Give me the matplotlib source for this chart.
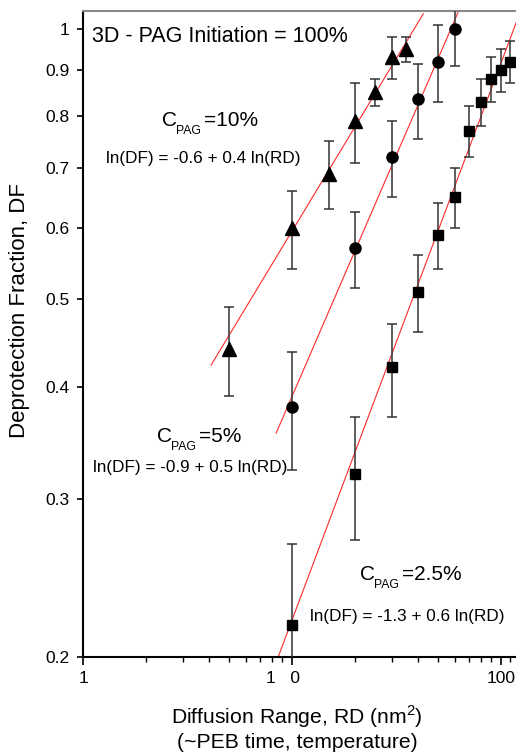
import numpy as np
import matplotlib
matplotlib.use('Agg')
import matplotlib.pyplot as plt
from matplotlib.ticker import FixedLocator, NullFormatter
import matplotlib.transforms as mtransforms

plt.rcParams['font.family'] = ['Liberation Sans', 'DejaVu Sans']
plt.rcParams['mathtext.fontset'] = 'custom'
plt.rcParams['mathtext.rm'] = 'Liberation Sans'

# C_PAG = 10 % (triangles)
tri_x = [5, 10, 15, 20, 25, 30, 35]
tri_y = [0.44, 0.60, 0.69, 0.79, 0.85, 0.93, 0.95]
tri_err = [0.05, 0.06, 0.06, 0.08, 0.03, 0.05, 0.03]

# C_PAG = 5 % (circles)
circ_x = [10, 20, 30, 40, 50, 60]
circ_y = [0.38, 0.57, 0.72, 0.835, 0.92, 1.0]
circ_err = [0.057, 0.055, 0.07, 0.08, 0.09, 0.09]

# C_PAG = 2.5 % (squares)
sq_x = [10, 20, 30, 40, 50, 60, 70, 80, 90, 100, 110]
sq_y = [0.217, 0.32, 0.42, 0.51, 0.59, 0.65, 0.77, 0.83, 0.88, 0.90, 0.92]
sq_err = [0.05] * 11

# fits: log10(DF) = a + b*log10(RD), drawn over [x0, x1]
fit_tri = (-0.61, 0.385, 4.1, 42.5)
fit_circ = (-0.947, 0.538, 8.4, 70)
fit_sq = (-1.278, 0.62, 8.6, 125)

y_ticks = [0.2, 0.3, 0.4, 0.5, 0.6, 0.7, 0.8, 0.9, 1.0]
y_labels = ['0.2', '0.3', '0.4', '0.5', '0.6', '0.7', '0.8', '0.9', '1']
x_ticks = [1, 10, 100]
x_labels = ['1', '1   0', '100']

W, H = 516, 754
fig = plt.figure(figsize=(W / 100, H / 100), dpi=100)
ax = fig.add_axes([83 / W, 1 - 657 / H, 1 - 83 / W, (657 - 10.7) / H])
ax.set_xscale('log')
ax.set_yscale('log')

for a, b, x0, x1 in [fit_tri, fit_circ, fit_sq]:
    xx = np.logspace(np.log10(x0), np.log10(x1), 50)
    ax.plot(xx, 10 ** (a + b * np.log10(xx)), color='#ff2a2a', lw=0.8, zorder=2)

ekw = dict(fmt='none', ecolor='#333333', elinewidth=1.1, capsize=3.6, capthick=1.1, zorder=3)
ax.errorbar(tri_x, tri_y, yerr=tri_err, **ekw)
ax.errorbar(circ_x, circ_y, yerr=circ_err, **ekw)
ax.errorbar(sq_x, sq_y, yerr=sq_err, **ekw)
ax.plot(tri_x, tri_y, '^', color='black', ms=9.5, ls='none', zorder=4)
ax.plot(circ_x, circ_y, 'o', color='black', ms=8, ls='none', zorder=4)
ax.plot(sq_x, sq_y, 's', color='black', ms=6.5, ls='none', zorder=4)

ax.set_xlim(1, 118)
ax.set_ylim(0.2, 1.048)

ax.yaxis.set_major_locator(FixedLocator(y_ticks))
ax.set_yticklabels(y_labels)
ax.yaxis.set_minor_locator(FixedLocator([]))
ax.xaxis.set_major_locator(FixedLocator(x_ticks))
ax.set_xticklabels(x_labels)
minors = [k * d for d in (1, 10) for k in range(2, 10)] + [110]
ax.xaxis.set_minor_locator(FixedLocator(minors))
ax.xaxis.set_minor_formatter(NullFormatter())

ax.tick_params(axis='x', which='major', direction='out', length=6, width=1.2, pad=4, labelsize=12.5)
ax.tick_params(axis='x', which='minor', direction='out', length=3.5, width=1.0)
ax.tick_params(axis='y', which='major', direction='out', length=4.5, width=1.2, pad=5, labelsize=12.5)

# "1   0" label sits a little left of its tick
off = mtransforms.ScaledTranslation(-9 / 100, 0, fig.dpi_scale_trans)
lbl = ax.get_xticklabels()[1]
lbl.set_transform(lbl.get_transform() + off)

for s in ['left', 'bottom']:
    ax.spines[s].set_linewidth(1.5)
    ax.spines[s].set_color('black')
ax.spines['top'].set_linewidth(1.5)
ax.spines['top'].set_color('#888888')
ax.spines['right'].set_visible(False)

def ftext(px, py, s, size, ha='left', **kw):
    fig.text(px / W, 1 - py / H, s, fontsize=size, ha=ha, va='center', **kw)

def cpag(px, py, rest):
    # C with a small, low PAG subscript
    ftext(px, py, 'C', 15)
    ftext(px + 14, py + 10, 'PAG', 8.8)
    ftext(px + 42, py, rest, 15)

ftext(92, 37, '3D - PAG Initiation = 100%', 15.5)
cpag(162, 121, '=10%')
ftext(106, 158, 'ln(DF) = -0.6 + 0.4 ln(RD)', 12.3)
cpag(157, 437, '=5%')
ftext(93, 467, 'ln(DF) = -0.9 + 0.5 ln(RD)', 12.3)
cpag(360, 575, '=2.5%')
ftext(310, 616, 'ln(DF) = -1.3 + 0.6 ln(RD)', 12.3)

ftext(297, 717, r'Diffusion Range, RD (nm$^{\mathregular{2}}$)', 15.2, ha='center')
ftext(297, 742, '(~PEB time, temperature)', 15.2, ha='center')
fig.text(20 / W, 1 - 310 / H, 'Deprotection Fraction, DF', fontsize=16,
         rotation=90, ha='center', va='center')

fig.savefig('out.png', dpi=100)
